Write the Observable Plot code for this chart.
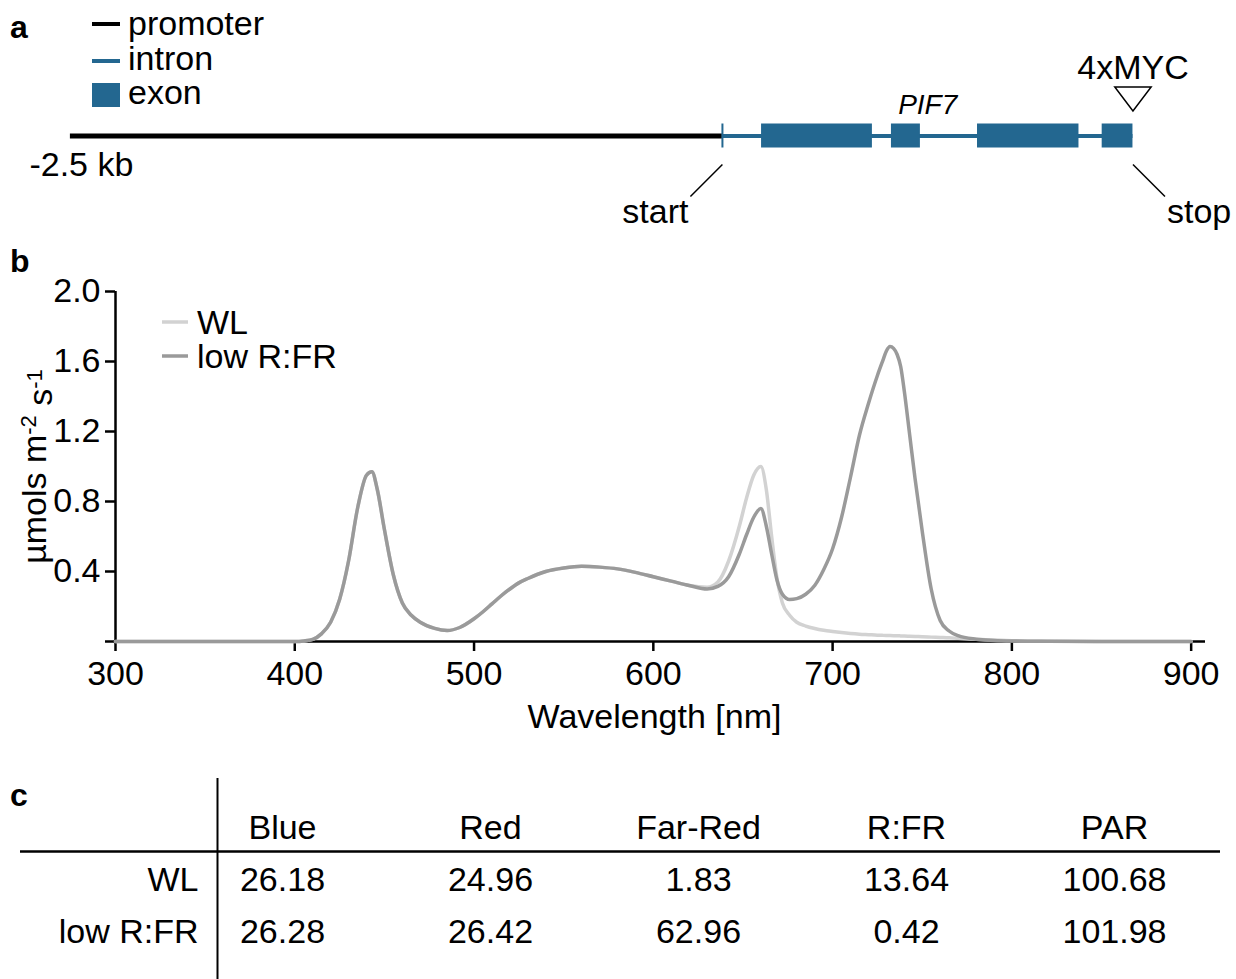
<!DOCTYPE html>
<html><head><meta charset="utf-8">
<script src="https://cdn.jsdelivr.net/npm/d3@7"></script>
<script src="https://cdn.jsdelivr.net/npm/@observablehq/plot@0.6"></script>
<style>
html,body{margin:0;padding:0;background:#fff;}
#root{position:relative;width:1236px;height:979px;overflow:hidden;background:#fff;font-family:"Liberation Sans",Arial,sans-serif;}
#root svg{position:absolute;left:0;}
</style></head><body><div id="root"></div>
<script>
// ---------------- DATA ----------------
// Panel a: gene model (bp, relative to start codon)
const promoterStart = -2500;
const geneStart = 0;
const geneEnd = 1574;
const exonStarts = [150, 648, 978, 1456];
const exonEnds   = [575, 759, 1367, 1574];
const geneName = "PIF7";
const tagName = "4xMYC";
const promoterLabel = "-2.5 kb";
const legendAItems = ["promoter", "intron", "exon"];

// Panel b: spectra
const wavelength = [300,350,400,405,410,415,420,425,430,435,440,443,446,450,455,460,465,470,478,485,492,500,505,510,515,520,525,530,540,550,560,570,580,590,600,610,620,630,636,642,648,652,656,660,663,666,669,672,676,680,685,690,695,700,705,710,715,720,725,728,730,732,734,736,738,740,743,746,750,755,760,765,770,780,790,800,820,850,900];
const wlValues = [0,0,0,0.003,0.012,0.045,0.11,0.24,0.46,0.76,0.95,0.97,0.87,0.64,0.38,0.22,0.15,0.11,0.075,0.063,0.08,0.13,0.17,0.215,0.26,0.30,0.335,0.36,0.40,0.42,0.43,0.425,0.415,0.395,0.37,0.345,0.32,0.31,0.34,0.46,0.66,0.82,0.95,1.0,0.87,0.60,0.36,0.22,0.15,0.11,0.088,0.074,0.064,0.057,0.051,0.046,0.042,0.039,0.036,0.035,0.0345,0.034,0.0335,0.033,0.032,0.031,0.030,0.029,0.027,0.025,0.023,0.021,0.018,0.013,0.008,0.005,0.002,0,0];
const lowValues = [0,0,0,0.003,0.012,0.045,0.11,0.24,0.46,0.76,0.95,0.97,0.87,0.64,0.38,0.22,0.15,0.11,0.075,0.063,0.08,0.13,0.17,0.215,0.26,0.30,0.335,0.36,0.40,0.42,0.43,0.425,0.415,0.395,0.37,0.345,0.32,0.30,0.315,0.37,0.50,0.61,0.71,0.76,0.66,0.50,0.35,0.27,0.24,0.245,0.27,0.32,0.41,0.53,0.71,0.94,1.18,1.36,1.52,1.605,1.66,1.686,1.675,1.64,1.57,1.43,1.18,0.93,0.63,0.30,0.12,0.06,0.033,0.013,0.006,0.003,0.001,0,0];
const seriesNames = ["WL", "low R:FR"];
const seriesColors = ["#d2d2d2", "#9a9a9a"];
const xTicks = [300,400,500,600,700,800,900];
const yTicks = [0,0.4,0.8,1.2,1.6,2.0];
const xLabel = "Wavelength [nm]";
const yLabel = "µmols m-2 s-1";

// Panel c: table
const tableColumns = ["Blue","Red","Far-Red","R:FR","PAR"];
const tableRows = ["WL","low R:FR"];
const wlRow  = ["26.18","24.96","1.83","13.64","100.68"];
const lowRow = ["26.28","26.42","62.96","0.42","101.98"];

// ---------------- STYLE ----------------
const FONT = "'Liberation Sans', Arial, sans-serif";
const FS = 34;
const BLUE = "#236790";
const root = document.getElementById("root");
function place(el, top){ el.style.top = top + "px"; root.appendChild(el); }

// ---------------- PANEL A ----------------
const W = 1236;
const aDomain = [-2768, 1971];
const pxPerBp = W / (aDomain[1] - aDomain[0]);
const trackY = 135.5, exonH = 24;
const exons = exonStarts.map((s,i)=>({start:s, end:exonEnds[i]}));
const downTri = { draw(ctx, size){ const w = Math.sqrt(size); ctx.moveTo(-w/2,-w*0.33); ctx.lineTo(w/2,-w*0.33); ctx.lineTo(0,w*0.33); ctx.closePath(); } };

const plotA = Plot.plot({
  width: W, height: 240, margin: 0,
  x: {domain: aDomain, range: [0, W], axis: null},
  y: {domain: [0, 240], range: [0, 240], axis: null},
  style: {fontFamily: FONT, fontSize: FS + "px", color: "#000", background: "transparent", overflow: "visible"},
  marks: [
    Plot.ruleY([trackY], {x1: promoterStart, x2: geneStart, stroke: "#000", strokeWidth: 5}),
    Plot.ruleY([trackY], {x1: geneStart, x2: geneEnd, stroke: BLUE, strokeWidth: 4}),
    Plot.ruleX([geneStart], {y1: trackY - exonH/2, y2: trackY + exonH/2, stroke: BLUE, strokeWidth: 2}),
    Plot.rect(exons, {x1: "start", x2: "end", y1: trackY - exonH/2, y2: trackY + exonH/2, fill: BLUE}),
    Plot.text([promoterLabel], {x: promoterStart, y: 175, dx: -41, textAnchor: "start", lineAnchor: "bottom", fontSize: FS}),
    Plot.text([geneName], {x: (geneStart + geneEnd)/2, y: 113, textAnchor: "middle", lineAnchor: "bottom", fontSize: 28, fontStyle: "italic"}),
    Plot.text([tagName], {x: geneEnd, y: 78, textAnchor: "middle", lineAnchor: "bottom", fontSize: FS}),
    Plot.dot([geneEnd], {x: d => d, y: 98.5, symbol: downTri, r: 20.5, stroke: "#000", strokeWidth: 1.5, fill: "#fff"}),
    Plot.link([geneStart], {x1: d => d, y1: 164, x2: d => d - 32/pxPerBp, y2: 196, stroke: "#000", strokeWidth: 1.5}),
    Plot.link([geneEnd], {x1: d => d, y1: 164, x2: d => d + 32/pxPerBp, y2: 196, stroke: "#000", strokeWidth: 1.5}),
    Plot.text(["start"], {x: geneStart, y: 222, dx: -34, textAnchor: "end", lineAnchor: "bottom", fontSize: FS}),
    Plot.text(["stop"], {x: geneEnd, y: 222, dx: 34, textAnchor: "start", lineAnchor: "bottom", fontSize: FS})
  ]
});
place(plotA, 0);

// ---------------- PANEL B ----------------
const spectra = [];
wavelength.forEach((w, i) => {
  spectra.push({w, v: wlValues[i], s: seriesNames[0]});
  spectra.push({w, v: lowValues[i], s: seriesNames[1]});
});
const plotB = Plot.plot({
  width: W, height: 500,
  marginLeft: 115, marginRight: 31, marginTop: 51, marginBottom: 99,
  style: {fontFamily: FONT, fontSize: FS + "px", color: "#000", background: "transparent", overflow: "visible"},
  x: {domain: [300, 908]},
  y: {domain: [0, 2]},
  color: {domain: seriesNames, range: seriesColors},
  marks: [
    Plot.ruleY([0], {stroke: "#000", strokeWidth: 2.5}),
    Plot.ruleX([300], {y1: 0, y2: 2, stroke: "#000", strokeWidth: 2.5}),
    Plot.axisX({ticks: xTicks, tickSize: 10, tickPadding: 9, strokeWidth: 2.5, fontSize: FS, label: null, tickFormat: d => String(d)}),
    Plot.axisY({ticks: yTicks, tickSize: 10, tickPadding: 5, strokeWidth: 2.5, fontSize: FS, label: null, tickFormat: d => d === 0 ? "" : d.toFixed(1)}),
    Plot.text([xLabel], {frameAnchor: "bottom", dy: 62, dx: -6, lineAnchor: "top", textAnchor: "middle", fontSize: FS}),
    Plot.text([yLabel], {frameAnchor: "left", dx: -80, rotate: -90, textAnchor: "middle", lineAnchor: "middle", fontSize: FS}),
    Plot.line(spectra.filter(d => d.s === seriesNames[0]), {x: "w", y: "v", stroke: "s", strokeWidth: 3.5, curve: "monotone-x"}),
    Plot.line(spectra.filter(d => d.s === seriesNames[1]), {x: "w", y: "v", stroke: "s", strokeWidth: 3.5, curve: "monotone-x"})
  ]
});
// superscripts in y label
d3.select(plotB).selectAll("text").filter(function(){ return this.textContent === yLabel; }).each(function(){
  const t = d3.select(this); t.text(null);
  t.append("tspan").text("µmols m");
  t.append("tspan").attr("dy", "-0.45em").attr("font-size", "22px").text("-2");
  t.append("tspan").attr("dy", "0.45em").text(" s");
  t.append("tspan").attr("dy", "-0.45em").attr("font-size", "22px").text("-1");
});
place(plotB, 240);

// ---------------- PANEL C ----------------
const cells = [];
tableColumns.forEach((c, j) => {
  cells.push({col: c, row: "header", text: c});
  cells.push({col: c, row: tableRows[0], text: wlRow[j]});
  cells.push({col: c, row: tableRows[1], text: lowRow[j]});
});
const rowKeys = ["header", ...tableRows];
const plotC = Plot.plot({
  width: W, height: 209,
  marginLeft: 20, marginRight: 16, marginTop: 8, marginBottom: 0,
  style: {fontFamily: FONT, fontSize: FS + "px", color: "#000", background: "transparent", overflow: "visible"},
  x: {type: "point", domain: tableColumns, range: [282, 1114], padding: 0, axis: null},
  y: {type: "point", domain: rowKeys, range: [68, 172], padding: 0, axis: null},
  marks: [
    Plot.ruleY(["header"], {dy: 13, stroke: "#000", strokeWidth: 2.5}),
    Plot.ruleX([tableColumns[0]], {dx: -65, stroke: "#000", strokeWidth: 2}),
    Plot.text(cells, {x: "col", y: "row", text: "text", lineAnchor: "bottom", fontSize: FS}),
    Plot.text(tableRows, {x: () => tableColumns[0], y: d => d, text: d => d, dx: -84, textAnchor: "end", lineAnchor: "bottom", fontSize: FS})
  ]
});
place(plotC, 770);

// ---------------- OVERLAY: panel letters & legends ----------------
const ov = d3.create("svg").attr("width", W).attr("height", 979)
  .style("top", "0px").style("pointer-events", "none")
  .attr("font-family", FONT).attr("font-size", FS);
[["a", 38], ["b", 272], ["c", 806]].forEach(([l, y]) => {
  ov.append("text").attr("x", 10).attr("y", y).attr("font-weight", "bold").attr("font-size", 32).text(l);
});
// legend a
const legA = [
  {name: legendAItems[0], y: 24, base: 35, kind: "line", color: "#000"},
  {name: legendAItems[1], y: 61, base: 70, kind: "line", color: BLUE},
  {name: legendAItems[2], y: 95, base: 104, kind: "rect", color: BLUE}
];
legA.forEach(d => {
  if (d.kind === "line") ov.append("line").attr("x1", 92).attr("x2", 120).attr("y1", d.y).attr("y2", d.y).attr("stroke", d.color).attr("stroke-width", 4);
  else ov.append("rect").attr("x", 92).attr("y", d.y - 12).attr("width", 28).attr("height", 24).attr("fill", d.color);
  ov.append("text").attr("x", 128).attr("y", d.base).text(d.name);
});
// legend b
seriesNames.forEach((s, i) => {
  const y = 322 + i * 34;
  ov.append("line").attr("x1", 162).attr("x2", 188).attr("y1", y).attr("y2", y).attr("stroke", seriesColors[i]).attr("stroke-width", 3.5);
  ov.append("text").attr("x", 197).attr("y", y + 12).text(s);
});
root.appendChild(ov.node());
</script></body></html>
